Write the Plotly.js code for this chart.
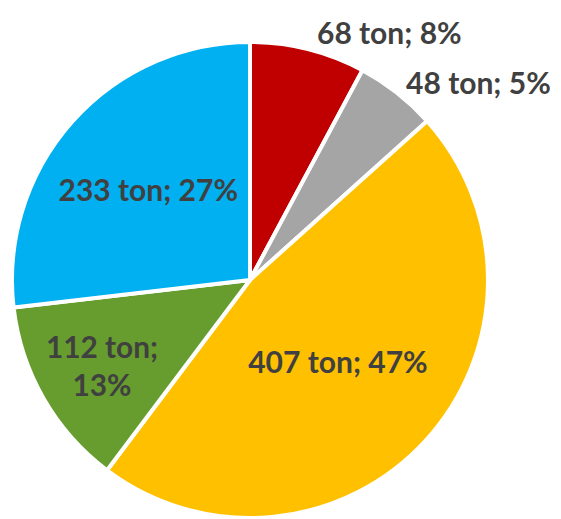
<!DOCTYPE html>
<html><head><meta charset="utf-8">
<script src="https://cdn.plot.ly/plotly-3.0.1.min.js"></script>
<style>html,body{margin:0;padding:0;background:#fff}#chart{width:561px;height:519px}</style>
</head><body><div id="chart"></div>
<script>
const categories = ["A", "B", "C", "D", "E"];
const values = [68, 48, 407, 112, 233];
const labelTexts = ["68 ton; 8%", "48 ton; 5%", "407 ton; 47%", "112 ton;<br>13%", "233 ton; 27%"];
const colors = ["#C00000", "#A5A5A5", "#FFC000", "#669D2E", "#00B0F0"];
const positions = ["outside", "outside", "inside", "inside", "inside"];

Plotly.newPlot("chart", [{
  type: "pie",
  labels: categories,
  values: values,
  text: labelTexts,
  textinfo: "text",
  textposition: positions,
  insidetextorientation: "horizontal",
  sort: false,
  direction: "clockwise",
  rotation: 0,
  marker: {colors: colors, line: {color: "#ffffff", width: 4}},
  textfont: {family: "Lato", size: 30, color: "#404040", weight: "bold"},
  hoverinfo: "none",
  domain: {x: [12/561, 488/561], y: [1/519, 477/519]}
}], {
  width: 561, height: 519,
  margin: {l: 0, r: 0, t: 0, b: 0},
  showlegend: false,
  paper_bgcolor: "#ffffff"
}, {displayModeBar: false, staticPlot: true});
</script></body></html>
